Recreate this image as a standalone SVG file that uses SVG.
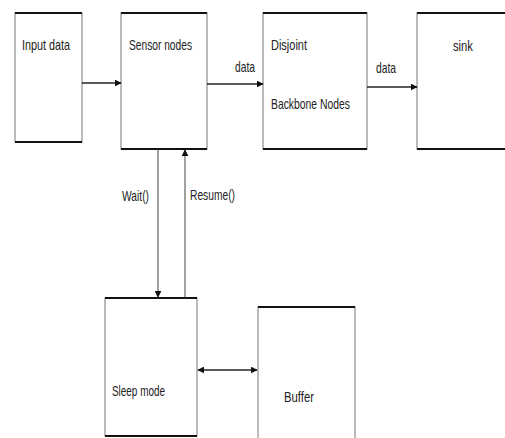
<svg xmlns="http://www.w3.org/2000/svg" width="505" height="438" viewBox="0 0 505 438">
<defs>
<style>
.box{fill:#fff;stroke:#777;stroke-width:1}
.edge{stroke:#111;stroke-width:2}
.t{font-family:"Liberation Sans",Arial,sans-serif;font-size:15px;fill:#222}
.c{stroke:#222;stroke-width:1.6;fill:none}
.v{stroke:#444;stroke-width:1;fill:none}
</style>
<marker id="ah" viewBox="0 0 10 10" refX="9" refY="5" markerWidth="7" markerHeight="7" orient="auto-start-reverse" markerUnits="userSpaceOnUse">
<path d="M0,0 L10,5 L0,10 z" fill="#111"/>
</marker>
</defs>
<rect width="505" height="438" fill="#fff"/>
<g id="input">
<rect class="box" x="15" y="13" width="67" height="129"/>
<line class="edge" x1="15" y1="13" x2="82" y2="13"/><line class="edge" x1="15" y1="142" x2="82" y2="142"/>
<text class="t" x="22" y="50" textLength="48" lengthAdjust="spacingAndGlyphs">Input data</text>
</g>
<g id="sensor">
<rect class="box" x="121" y="13" width="86" height="136"/>
<line class="edge" x1="121" y1="13" x2="207" y2="13"/><line class="edge" x1="121" y1="149" x2="207" y2="149"/>
<text class="t" x="129" y="50" textLength="63" lengthAdjust="spacingAndGlyphs">Sensor nodes</text>
</g>
<g id="disjoint">
<rect class="box" x="263" y="13" width="104" height="136"/>
<line class="edge" x1="263" y1="13" x2="367" y2="13"/><line class="edge" x1="263" y1="149" x2="367" y2="149"/>
<text class="t" x="271" y="50" textLength="36" lengthAdjust="spacingAndGlyphs">Disjoint</text>
<text class="t" x="271" y="109" textLength="79" lengthAdjust="spacingAndGlyphs">Backbone Nodes</text>
</g>
<g id="sink">
<rect class="box" x="417" y="13" width="95" height="136"/>
<line class="edge" x1="417" y1="13" x2="505" y2="13"/><line class="edge" x1="417" y1="149" x2="505" y2="149"/>
<text class="t" x="453" y="51" textLength="20" lengthAdjust="spacingAndGlyphs">sink</text>
</g>
<g id="sleep">
<rect class="box" x="105" y="298" width="92" height="138"/>
<line class="edge" x1="105" y1="298" x2="197" y2="298"/><line class="edge" x1="105" y1="436" x2="197" y2="436"/>
<text class="t" x="112" y="396" textLength="53" lengthAdjust="spacingAndGlyphs">Sleep mode</text>
</g>
<g id="buffer">
<rect class="box" x="258" y="307" width="97" height="135"/>
<line class="edge" x1="258" y1="307" x2="355" y2="307"/>
<text class="t" x="284" y="402" textLength="30" lengthAdjust="spacingAndGlyphs">Buffer</text>
</g>
<g id="connectors">
<line class="c" x1="82" y1="83" x2="121" y2="83" marker-end="url(#ah)"/>
<line class="c" x1="207" y1="84" x2="263" y2="84" marker-end="url(#ah)"/>
<text class="t" x="235" y="72" textLength="20" lengthAdjust="spacingAndGlyphs">data</text>
<line class="c" x1="367" y1="87" x2="417" y2="87" marker-end="url(#ah)"/>
<text class="t" x="376" y="73" textLength="20" lengthAdjust="spacingAndGlyphs">data</text>
<line class="v" x1="158" y1="149" x2="158" y2="297" marker-end="url(#ah)"/>
<text class="t" x="122" y="201" textLength="27" lengthAdjust="spacingAndGlyphs">Wait()</text>
<line class="v" x1="185" y1="298" x2="185" y2="150" marker-end="url(#ah)"/>
<text class="t" x="190" y="200" textLength="45" lengthAdjust="spacingAndGlyphs">Resume()</text>
<line class="c" x1="198" y1="370" x2="257" y2="370" marker-start="url(#ah)" marker-end="url(#ah)"/>
</g>
</svg>
